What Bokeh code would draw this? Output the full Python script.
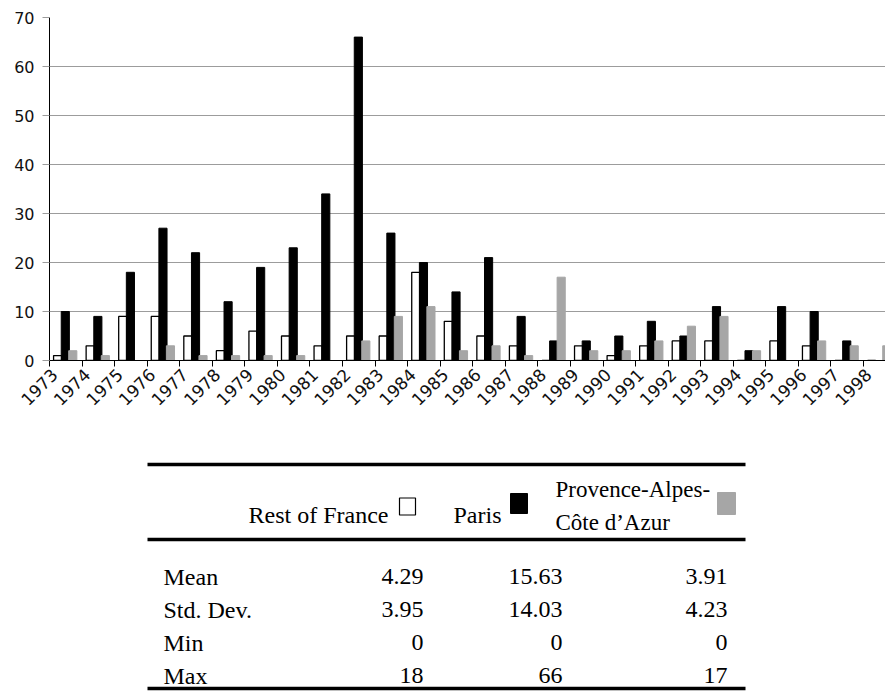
import math
import numpy as np
from bokeh.plotting import figure
from bokeh.layouts import column
from bokeh.models import Range1d, FixedTicker
from bokeh.core.properties import value
from bokeh.embed import file_html
from bokeh.resources import INLINE

# ---------------- data ----------------
years = ["1973", "1974", "1975", "1976", "1977", "1978", "1979", "1980", "1981",
         "1982", "1983", "1984", "1985", "1986", "1987", "1988", "1989", "1990",
         "1991", "1992", "1993", "1994", "1995", "1996", "1997", "1998"]
rest_of_france = [1, 3, 9, 9, 5, 2, 6, 5, 3, 5, 5, 18, 8, 5, 3, 0, 3, 1, 3, 4, 4, 0, 4, 3, 0, 0]
paris = [10, 9, 18, 27, 22, 12, 19, 23, 34, 66, 26, 20, 14, 21, 9, 4, 4, 5, 8, 5, 11, 2, 11, 10, 4, 0]
paca = [2, 1, 0, 3, 1, 1, 1, 1, 0, 4, 9, 11, 2, 3, 1, 17, 2, 2, 4, 7, 9, 2, 0, 4, 3, 3]
y_ticks = [0, 10, 20, 30, 40, 50, 60, 70]

stat_labels = ["Mean", "Std. Dev.", "Min", "Max"]
rest_stats = ["4.29", "3.95", "0", "18"]
paris_stats = ["15.63", "14.03", "0", "66"]
paca_stats = ["3.91", "4.23", "0", "17"]
header_rest = "Rest of France"
header_paris = "Paris"
header_paca = ["Provence-Alpes-", "Côte d’Azur"]

# ---------------- chart ----------------
W = 885
H1 = 440
label_shift = 0.15
idx = np.arange(len(years))
slot_start = idx - label_shift
slot_px = 32.56
left = 49
frame_w = W - left

p = figure(width=W, height=H1, output_backend="svg", toolbar_location=None,
           x_range=Range1d(-label_shift, -label_shift + frame_w / slot_px),
           y_range=Range1d(0, 70),
           min_border_left=left, min_border_right=0, min_border_top=17, min_border_bottom=80)
p.frame_align = False

p.vbar(x=slot_start + 0.25, top=rest_of_france, width=0.25, fill_color="white",
       line_color="black", line_width=1.3)
p.vbar(x=slot_start + 0.485, top=paris, width=0.25, fill_color="black", line_color="black")
p.vbar(x=slot_start + 0.715, top=paca, width=0.25, fill_color="#a6a6a6", line_color="#a6a6a6")

p.outline_line_color = None
p.xgrid.visible = False
p.ygrid.grid_line_color = "#9c9c9c"
p.ygrid.grid_line_width = 1

p.xaxis.ticker = FixedTicker(ticks=[int(i) for i in idx], minor_ticks=[float(s) for s in slot_start])
p.xaxis.major_label_overrides = {int(i): y for i, y in zip(idx, years)}
p.xaxis.major_tick_out = 0
p.xaxis.major_tick_in = 0
p.xaxis.minor_tick_out = 6
p.xaxis.minor_tick_in = 0
p.xaxis.minor_tick_line_color = "black"
p.xaxis.major_label_orientation = math.pi / 4
p.xaxis.major_label_standoff = 5
p.xaxis.axis_line_color = "black"
p.xaxis.major_label_text_font_size = "17px"

p.yaxis.ticker = FixedTicker(ticks=y_ticks)
p.yaxis.major_tick_out = 7
p.yaxis.major_tick_in = 0
p.yaxis.minor_tick_out = 0
p.yaxis.minor_tick_in = 0
p.yaxis.major_label_standoff = 8
p.yaxis.axis_line_color = "black"
p.yaxis.major_tick_line_color = "#9c9c9c"
p.yaxis.major_label_text_font_size = "16px"

for ax in (p.xaxis, p.yaxis):
    ax.major_label_text_font = "DejaVu Sans"
    ax.major_label_text_color = "#111111"

# ---------------- table ----------------
H2 = 691 - H1
t = figure(width=W, height=H2, output_backend="svg", toolbar_location=None,
           x_range=Range1d(0, W), y_range=Range1d(H1 + H2, H1),
           min_border=0, x_axis_type=None, y_axis_type=None)
t.frame_align = False
t.outline_line_color = None
t.grid.visible = False

serif = value("Liberation Serif")
fs = "24px"

rule_y = [464, 539, 688]
t.segment(x0=[147] * 3, x1=[745] * 3, y0=rule_y, y1=rule_y, line_color="black", line_width=3.5)

# header
t.text(x=[388], y=[514], text=[header_rest], text_font=serif, text_font_size=fs,
       text_align="right", text_baseline="alphabetic", text_color="black")
t.text(x=[453], y=[514], text=[header_paris], text_font=serif, text_font_size=fs,
       text_align="left", text_baseline="alphabetic", text_color="black")
t.text(x=[555, 555], y=[489, 522], text=header_paca, text_font=serif, text_font_size="23px",
       text_align="left", text_baseline="alphabetic", text_color="black")
t.rect(x=[407], y=[506], width=16, height=17, fill_color="white", line_color="black", line_width=1.2)
t.rect(x=[518.5], y=[503], width=17, height=20, fill_color="black", line_color="black")
t.rect(x=[726], y=[503], width=18, height=22, fill_color="#a6a6a6", line_color="#a6a6a6")

row_y = [576, 609, 642, 675]
t.text(x=[163] * 4, y=row_y, text=stat_labels, text_font=serif, text_font_size=fs,
       text_align="left", text_baseline="alphabetic", text_color="black")
for xr, vals in zip([423, 562, 727], [rest_stats, paris_stats, paca_stats]):
    t.text(x=[xr] * 4, y=row_y, text=vals, text_font=serif, text_font_size=fs,
           text_align="right", text_baseline="alphabetic", text_color="black")

layout = column(p, t, spacing=0)
open("out.html", "w").write(file_html(layout, INLINE))
